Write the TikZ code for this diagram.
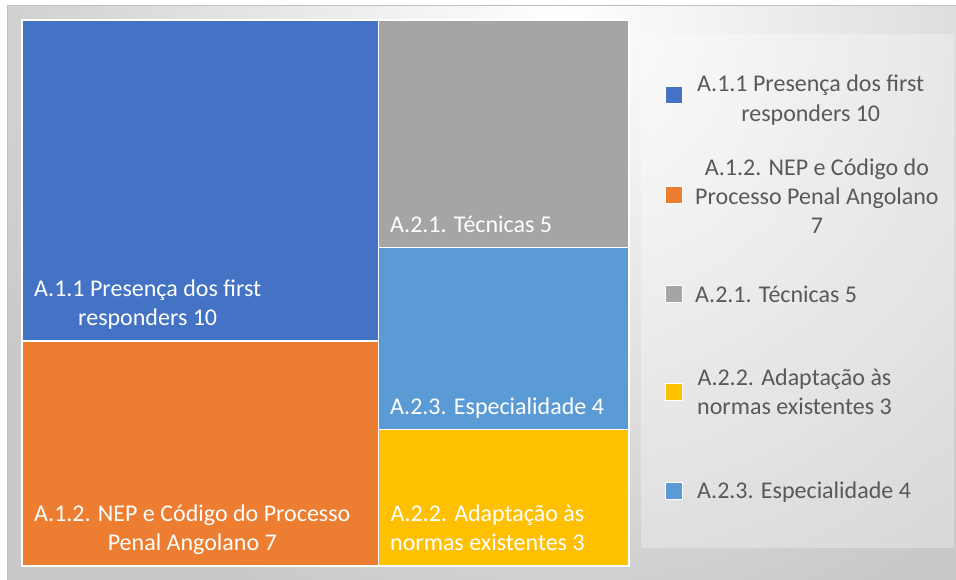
\documentclass[tikz,border=0pt]{standalone}
\usepackage{fontspec}
\setmainfont{Carlito}
\definecolor{cblue}{HTML}{4472C4}
\definecolor{corange}{HTML}{ED7D31}
\definecolor{cgray}{HTML}{A5A5A5}
\definecolor{cyellow}{HTML}{FFC000}
\definecolor{clblue}{HTML}{5B9BD5}
\definecolor{ctext}{HTML}{595959}
\definecolor{cbg}{HTML}{C9C9C9}
\definecolor{cframe}{HTML}{BFBFBF}
\begin{document}
\begin{tikzpicture}[x=1pt,y=-1pt,
  tile/.style={draw=white, line width=1.2pt},
  tmlabel/.style={anchor=south west, inner sep=0pt, align=center, text=white,
    font=\fontsize{24}{29.3}\selectfont},
  legtext/.style={anchor=north west, inner sep=0pt, align=center, text=ctext,
    font=\fontsize{24}{29.3}\selectfont},
  legsq/.style={draw=white, line width=0.8pt, minimum size=17pt, inner sep=0pt}]
\useasboundingbox (0,0) rectangle (956,579);
% background
\begin{scope}
  \clip (7,5) rectangle (960,583);
  \fill[cbg] (7,5) rectangle (960,583);
  \shade[inner color=white, outer color=cbg] (560,20) circle (640);
\end{scope}
\draw[cframe, line width=1pt] (7,583) -- (7,5) -- (960,5);
% treemap tiles
\fill[white] (21,19) rectangle (630,567);
\draw[tile, fill=cblue]   (22,20)    rectangle (378.5,341);
\draw[tile, fill=corange] (22,341)   rectangle (378.5,566);
\draw[tile, fill=cgray]   (378.5,20) rectangle (629,247.5);
\draw[tile, fill=clblue]  (378.5,247.5) rectangle (629,429.5);
\draw[tile, fill=cyellow] (378.5,429.5) rectangle (629,566);
% treemap labels
\node[tmlabel] (t1) at (34,334.5) {\strut A.1.1 Presença dos first\\\strut responders 10};
\node[tmlabel] (t2) at (34,559.5) {\strut A.1.2. NEP e Código do Processo\\\strut Penal Angolano 7};
\node[tmlabel] (t3) at (390,241) {\strut A.2.1. Técnicas 5};
\node[tmlabel] (t4) at (390,423) {\strut A.2.3. Especialidade 4};
\node[tmlabel] (t5) at (390,559.5) {\strut A.2.2. Adaptação às\\\strut normas existentes 3};
% legend box
\fill[white, opacity=0.3] (641,34) rectangle (954,548);
% legend entries
\node[legsq, fill=cblue]   (s1) at (674,95)  {};
\node[legsq, fill=corange] (s2) at (674,195) {};
\node[legsq, fill=cgray]   (s3) at (674,294) {};
\node[legsq, fill=cyellow] (s4) at (674,392) {};
\node[legsq, fill=clblue]  (s5) at (674,491) {};
\node[legtext] (g1) at (697,71)    {\strut A.1.1 Presença dos first\\\strut responders 10};
\node[legtext] (g2) at (695,154.5) {\strut A.1.2. NEP e Código do\\\strut Processo Penal Angolano\\\strut 7};
\node[legtext] (g3) at (695,281.5) {\strut A.2.1. Técnicas 5};
\node[legtext] (g4) at (697,364.5) {\strut A.2.2. Adaptação às\\\strut normas existentes 3};
\node[legtext] (g5) at (697,477.5) {\strut A.2.3. Especialidade 4};
\end{tikzpicture}
\end{document}
